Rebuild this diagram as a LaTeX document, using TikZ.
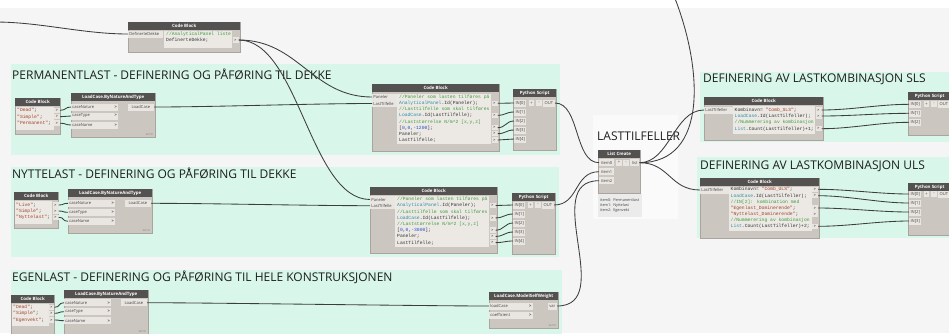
\documentclass[tikz,border=0pt]{standalone}
\usepackage{fontspec}
\usetikzlibrary{calc}
\newfontfamily\codef{Liberation Mono}
\newfontfamily\uif{Open Sans}

\definecolor{canvasc}{HTML}{F5F5F5}
\definecolor{grpc}{HTML}{D8F7EA}
\definecolor{listgrp}{HTML}{FAFAFA}
\definecolor{bodyc}{HTML}{CBC6BF}
\definecolor{bodyedge}{HTML}{A9A49E}
\definecolor{headc}{HTML}{545250}
\definecolor{portc}{HTML}{E9E6E2}
\definecolor{codebg}{HTML}{ECE9E5}
\definecolor{codetxt}{HTML}{333333}
\definecolor{wirec}{HTML}{3D3D3D}
\definecolor{cgreen}{HTML}{3C9B3C}
\definecolor{cteal}{HTML}{2B8FA8}
\definecolor{cstr}{HTML}{A0422A}
\definecolor{cnum}{HTML}{2050D0}
\definecolor{titlec}{HTML}{1E1E1E}
\definecolor{labelc}{HTML}{444444}
\definecolor{infoc}{HTML}{EBEBEB}

\tikzset{
  wire/.style={draw=wirec, line width=0.85pt},
  body/.style={rectangle, fill=bodyc, draw=bodyedge, line width=0.3pt, anchor=north west, inner sep=0},
  head/.style={rectangle, fill=headc, text=white, font=\uif\bfseries\fontsize{4.4}{5}\selectfont,
    anchor=north west, inner sep=0, minimum height=8pt},
  grptitle/.style={font=\uif\fontsize{12}{14}\selectfont, text=titlec, anchor=base west, inner sep=0},
  portlbl/.style={rectangle, fill=portc, inner sep=0, minimum height=7pt,
    font=\uif\fontsize{4.1}{5}\selectfont, text=labelc},
  inport/.style={portlbl, anchor=west, align=left, inner xsep=1.2pt},
  outport/.style={portlbl, anchor=east},
  pyin/.style={portlbl, anchor=west, minimum width=12pt},
  btn/.style={portlbl, minimum width=5.5pt, minimum height=6pt},
  outbox/.style={portlbl, minimum width=6pt, minimum height=5.5pt, font=\uif\bfseries\fontsize{3.6}{4}\selectfont},
  code/.style={font=\codef\fontsize{4.7}{5}\selectfont, text=codetxt, inner sep=0, anchor=base west},
  autotag/.style={font=\uif\fontsize{2.6}{3}\selectfont, text=gray, inner sep=0, anchor=south east},
  info/.style={rectangle, fill=infoc, anchor=north west, inner xsep=2pt, inner ysep=1.5pt, align=left,
    text width=40pt, minimum height=23pt, font=\uif\fontsize{3.8}{4.9}\selectfont, text=labelc},
}

% Dynamo-style wire with horizontal tangents at both ends
\newcommand\wire[3]{\draw[wire] (#1) .. controls +(#3,0) and +(-#3,0) .. (#2);}

% Python Script node: name, x, top, height, y of IN[0], last input index
\newcommand\pynode[6]{%
  \node[body, minimum width=43pt, minimum height=#4pt] (#1) at (#2,#3) {};
  \node[head, minimum width=43pt] (#1-h) at (#2,#3) {Python Script};
  \foreach \k in {0,...,#6}{\node[pyin] (#1-i\k) at ({#2+1},{#5+9*\k}) {IN[\k]};}
  \node[btn] (#1-p) at ({#2+18.5},#5) {+};
  \node[btn] (#1-m) at ({#2+26},#5) {-};
  \node[outport, minimum width=12pt] (#1-o) at ({#2+42},#5) {OUT};
}

% LoadCase.ByNatureAndType node: name, x, top, height, y of first input
\newcommand\lcnode[5]{%
  \node[body, minimum width=84pt, minimum height=#4pt] (#1) at (#2,#3) {};
  \node[head, minimum width=84pt] (#1-h) at (#2,#3) {LoadCase.ByNatureAndType};
  \node[inport, text width=44.6pt] (#1-i1) at (#2,#5) {caseNature\hfill\textbf{>}};
  \node[inport, text width=44.6pt] (#1-i2) at ({#2},{#5+9}) {caseType\hfill\textbf{>}};
  \node[inport, text width=44.6pt] (#1-i3) at ({#2},{#5+18}) {caseName\hfill\textbf{>}};
  \node[outport, minimum width=26pt] (#1-o) at ({#2+83},#5) {LoadCase};
  \node[autotag] (#1-a) at ({#2+82},{#3+43}) {AUTO};
}

\begin{document}
\begin{tikzpicture}[x=1pt,y=-1pt]
\clip (0,0) rectangle (949,333);
\fill[canvasc] (0,0) rectangle (949,333);
\fill[white] (0,0) rectangle (949,8);

% ---------- groups ----------
\fill[grpc] (11,64) rectangle (560,155);
\fill[grpc] (11,167) rectangle (559,257);
\fill[grpc] (11,270) rectangle (562,340);
\fill[grpc] (700,72) rectangle (949,142);
\fill[grpc] (697,157) rectangle (949,238);
\fill[listgrp] (593,115) rectangle (678,219);

\node[grptitle] (tPerm) at (12,79) {PERMANENTLAST - DEFINERING OG PÅFØRING TIL DEKKE};
\node[grptitle] (tNytte) at (12,178.5) {NYTTELAST - DEFINERING OG PÅFØRING TIL DEKKE};
\node[grptitle] (tEgen) at (12,281.5) {EGENLAST - DEFINERING OG PÅFØRING TIL HELE KONSTRUKSJONEN};
\node[grptitle] (tSLS) at (703,82.3) {DEFINERING AV LASTKOMBINASJON SLS};
\node[grptitle] (tULS) at (700,169) {DEFINERING AV LASTKOMBINASJON ULS};
\node[grptitle] (tList) at (597,140) {LASTTILFELLER};

% ---------- slab list code block ----------
\node[body, minimum width=112pt, minimum height=30pt] (cbTop) at (128,22) {};
\node[head, minimum width=112pt] (cbTop-h) at (128,22) {Code Block};
\node[inport, text width=32.6pt] (cbTop-i) at (128,34) {DefinerteDekke};
\fill[codebg] (164,31) rectangle (232,48);
\node[code] (cbTop-l1) at (166,35.5) {\textcolor{cgreen}{//AnalyticalPanel liste}};
\node[code] (cbTop-l2) at (166,41.5) {DefinerteDekke;};
\node[outbox] (cbTop-o) at (235.5,40) {>};

% ---------- permanent load ----------
\node[body, minimum width=45pt, minimum height=36pt] (cbP) at (15,98) {};
\node[head, minimum width=45pt] (cbP-h) at (15,98) {Code Block};
\fill[codebg] (16,107) rectangle (54,130);
\node[code] (cbP-l1) at (17,111.7) {\textcolor{cstr}{"Dead"};};
\node[code] (cbP-l2) at (17,118.1) {\textcolor{cstr}{"Simple"};};
\node[code] (cbP-l3) at (17,124.6) {\textcolor{cstr}{"Permanent"};};
\node[outbox] (cbP-o1) at (57,110.3) {>};
\node[outbox] (cbP-o2) at (57,116.7) {>};
\node[outbox] (cbP-o3) at (57,123.2) {>};

\lcnode{lcP}{71}{93}{44}{107}

\node[body, minimum width=127pt, minimum height=67pt] (cbP2) at (372,84) {};
\node[head, minimum width=127pt] (cbP2-h) at (372,84) {Code Block};
\node[inport, text width=22.6pt] (cbP2-i1) at (372,97) {Paneler};
\node[inport, text width=22.6pt] (cbP2-i2) at (372,103.5) {LastTilfelle};
\fill[codebg] (397,93.5) rectangle (491,144);
\node[code] (cbP2-l1) at (399,98.1) {\textcolor{cgreen}{//Paneler som lasten tilføres på}};
\node[code] (cbP2-l2) at (399,104.7) {\textcolor{cteal}{AnalyticalPanel}.Id(Paneler);};
\node[code] (cbP2-l3) at (399,110.7) {\textcolor{cgreen}{//Lasttilfelle som skal tilføres}};
\node[code] (cbP2-l4) at (399,116.7) {\textcolor{cteal}{LoadCase}.Id(LastTilfelle);};
\node[code] (cbP2-l5) at (399,123.1) {\textcolor{cgreen}{//Laststørrelse N/m\textasciicircum2 [x,y,z]}};
\node[code] (cbP2-l6) at (399,129.1) {[\textcolor{cnum}{0},\textcolor{cnum}{0},\textcolor{cnum}{-1200}];};
\node[code] (cbP2-l7) at (399,135.1) {Paneler;};
\node[code] (cbP2-l8) at (399,141.4) {LastTilfelle;};
\node[outbox] (cbP2-o1) at (494.5,103.3) {>};
\node[outbox] (cbP2-o2) at (494.5,115.3) {>};
\node[outbox] (cbP2-o3) at (494.5,127.7) {>};
\node[outbox] (cbP2-o4) at (494.5,133.7) {>};
\node[outbox] (cbP2-o5) at (494.5,140) {>};

\pynode{pyP}{513}{89}{61}{103}{4}

% ---------- imposed load ----------
\node[body, minimum width=44pt, minimum height=36pt] (cbN) at (14,192) {};
\node[head, minimum width=44pt] (cbN-h) at (14,192) {Code Block};
\fill[codebg] (15,201) rectangle (52,224);
\node[code] (cbN-l1) at (16,206.4) {\textcolor{cstr}{"Live"};};
\node[code] (cbN-l2) at (16,212.4) {\textcolor{cstr}{"Simple"};};
\node[code] (cbN-l3) at (16,218.7) {\textcolor{cstr}{"Nyttelast"};};
\node[outbox] (cbN-o1) at (55.5,205) {>};
\node[outbox] (cbN-o2) at (55.5,211) {>};
\node[outbox] (cbN-o3) at (55.5,217.3) {>};

\lcnode{lcN}{68}{189}{44}{203.3}

\node[body, minimum width=127pt, minimum height=66pt] (cbN2) at (370,187) {};
\node[head, minimum width=127pt] (cbN2-h) at (370,187) {Code Block};
\node[inport, text width=22.6pt] (cbN2-i1) at (370,199.5) {Paneler};
\node[inport, text width=22.6pt] (cbN2-i2) at (370,205.7) {LastTilfelle};
\fill[codebg] (395,196) rectangle (489,247);
\node[code] (cbN2-l1) at (397,200.7) {\textcolor{cgreen}{//Paneler som lasten tilføres på}};
\node[code] (cbN2-l2) at (397,206.9) {\textcolor{cteal}{AnalyticalPanel}.Id(Paneler);};
\node[code] (cbN2-l3) at (397,213.1) {\textcolor{cgreen}{//Lasttilfelle som skal tilføres}};
\node[code] (cbN2-l4) at (397,219.3) {\textcolor{cteal}{LoadCase}.Id(LastTilfelle);};
\node[code] (cbN2-l5) at (397,225.5) {\textcolor{cgreen}{//Laststørrelse N/m\textasciicircum2 [x,y,z]}};
\node[code] (cbN2-l6) at (397,231.6) {[\textcolor{cnum}{0},\textcolor{cnum}{0},\textcolor{cnum}{-3000}];};
\node[code] (cbN2-l7) at (397,237.8) {Paneler;};
\node[code] (cbN2-l8) at (397,244) {LastTilfelle;};
\node[outbox] (cbN2-o1) at (492.5,205.5) {>};
\node[outbox] (cbN2-o2) at (492.5,217.9) {>};
\node[outbox] (cbN2-o3) at (492.5,230.2) {>};
\node[outbox] (cbN2-o4) at (492.5,236.4) {>};
\node[outbox] (cbN2-o5) at (492.5,242.6) {>};

\pynode{pyN}{512}{193}{61}{205}{4}

% ---------- self weight ----------
\node[body, minimum width=43pt, minimum height=45pt] (cbE) at (11,295) {};
\node[head, minimum width=43pt] (cbE-h) at (11,295) {Code Block};
\fill[codebg] (12,304) rectangle (48.5,326);
\node[code] (cbE-l1) at (13,308.7) {\textcolor{cstr}{"Dead"};};
\node[code] (cbE-l2) at (13,314.7) {\textcolor{cstr}{"Simple"};};
\node[code] (cbE-l3) at (13,321.4) {\textcolor{cstr}{"Egenvekt"};};
\node[outbox] (cbE-o1) at (51.3,307.3) {>};
\node[outbox] (cbE-o2) at (51.3,313.3) {>};
\node[outbox] (cbE-o3) at (51.3,320) {>};

\lcnode{lcE}{64}{290}{50}{302.7}

\node[body, minimum width=69pt, minimum height=36pt] (msw) at (489,292) {};
\node[head, minimum width=69pt] (msw-h) at (489,292) {LoadCase.ModelSelfWeight};
\node[inport, text width=41pt] (msw-i1) at (489,306) {loadCase\hfill\textbf{>}};
\node[inport, text width=41pt] (msw-i2) at (489,315) {coefficient\hfill\textbf{>}};
\node[outport, minimum width=9pt] (msw-o) at (557,306) {var};
\node[autotag] (msw-a) at (556,327) {AUTO};

% ---------- load case list ----------
\node[body, minimum width=42pt, minimum height=43pt] (lst) at (598,150) {};
\node[head, minimum width=42pt] (lst-h) at (598,150) {List Create};
\node[pyin, minimum width=15pt] (lst-i0) at (599,162.7) {item0};
\node[pyin, minimum width=15pt] (lst-i1) at (599,171.7) {item1};
\node[pyin, minimum width=15pt] (lst-i2) at (599,180.7) {item2};
\node[btn] (lst-p) at (619,162.7) {+};
\node[btn] (lst-m) at (626,162.7) {-};
\node[outport, minimum width=9pt] (lst-o) at (639.5,162.7) {list};
\node[info] (lst-info) at (598,194) {item0: Permanentlast\\item1: Nyttelast\\item2: Egenvekt};

% ---------- SLS combination ----------
\node[body, minimum width=119pt, minimum height=43pt] (cbS) at (704,97) {};
\node[head, minimum width=119pt] (cbS-h) at (704,97) {Code Block};
\node[inport, text width=26.6pt] (cbS-i) at (704,110) {LastTilfeller};
\fill[codebg] (733,106) rectangle (815,134);
\node[code] (cbS-l1) at (734.5,111.4) {Kombinavn= \textcolor{cstr}{"Comb\_SLS"};};
\node[code] (cbS-l2) at (734.5,117.4) {\textcolor{cteal}{LoadCase}.Id(LastTilfeller);};
\node[code] (cbS-l3) at (734.5,123.7) {\textcolor{cgreen}{//Nummerering av kombinasjon}};
\node[code] (cbS-l4) at (734.5,130.1) {\textcolor{cteal}{List}.Count(LastTilfeller)+1;};
\node[outbox] (cbS-o1) at (818.5,110) {>};
\node[outbox] (cbS-o2) at (818.5,116) {>};
\node[outbox] (cbS-o3) at (818.5,128.7) {>};

\pynode{pyS}{908}{92}{43}{104.3}{2}

% ---------- ULS combination ----------
\node[body, minimum width=119pt, minimum height=60pt] (cbU) at (700,178) {};
\node[head, minimum width=119pt] (cbU-h) at (700,178) {Code Block};
\node[inport, text width=26.6pt] (cbU-i) at (700,190) {LastTilfeller};
\fill[codebg] (729,186.5) rectangle (812,231);
\node[code] (cbU-l1) at (730.5,190.7) {Kombinavn= \textcolor{cstr}{"Comb\_ULS"};};
\node[code] (cbU-l2) at (730.5,197.1) {\textcolor{cteal}{LoadCase}.Id(LastTilfeller);};
\node[code] (cbU-l3) at (730.5,203.4) {\textcolor{cgreen}{//IN[2]: kombination med}};
\node[code] (cbU-l4) at (730.5,209.4) {\textcolor{cstr}{"Egenlast\_Dominerende"};};
\node[code] (cbU-l5) at (730.5,215.4) {\textcolor{cstr}{"Nyttelast\_Dominerende"};};
\node[code] (cbU-l6) at (730.5,221.7) {\textcolor{cgreen}{//Nummerering av kombinasjon}};
\node[code] (cbU-l7) at (730.5,227.7) {\textcolor{cteal}{List}.Count(LastTilfeller)+2;};
\node[outbox] (cbU-o1) at (815,189.3) {>};
\node[outbox] (cbU-o2) at (815,195.7) {>};
\node[outbox] (cbU-o3) at (815,208) {>};
\node[outbox] (cbU-o4) at (815,214) {>};
\node[outbox] (cbU-o5) at (815,226.3) {>};

\pynode{pyU}{908}{183}{52}{194}{3}

% ---------- wires ----------
\coordinate (offLeft) at (-5,22);
\coordinate (offTop) at (674,-4);

\wire{offLeft}{cbTop-i.west}{45}
\wire{cbTop-o.east}{cbP2-i1.west}{60}
\wire{cbTop-o.east}{cbN2-i1.west}{60}

\foreach \a/\b in {1/1,2/2,3/3}{
  \wire{cbP-o\a.east}{lcP-i\b.west}{6}
  \wire{cbN-o\a.east}{lcN-i\b.west}{6}
  \wire{cbE-o\a.east}{lcE-i\b.west}{6}
}
\wire{lcP-o.east}{cbP2-i2.west}{60}
\wire{lcN-o.east}{cbN2-i2.west}{60}
\wire{lcE-o.east}{msw-i1.west}{60}

\foreach \a/\b in {1/0,2/1,3/2,4/3,5/4}{
  \wire{cbP2-o\a.east}{pyP-i\b.west}{8}
  \wire{cbN2-o\a.east}{pyN-i\b.west}{8}
}

\wire{pyP-o.east}{lst-i0.west}{25}
\wire{pyN-o.east}{lst-i1.west}{25}
\wire{msw-o.east}{lst-i2.west}{60}

\wire{lst-o.east}{cbS-i.west}{30}
\wire{lst-o.east}{cbU-i.west}{30}
\draw[wire] (lst-o.east) .. controls +(70,0) and +(28,70) .. (offTop);

\foreach \a/\b in {1/0,2/1,3/2}{\wire{cbS-o\a.east}{pyS-i\b.west}{30}}
\foreach \a/\b in {1/0,2/1,3/2,5/3}{\wire{cbU-o\a.east}{pyU-i\b.west}{30}}
\end{tikzpicture}
\end{document}
